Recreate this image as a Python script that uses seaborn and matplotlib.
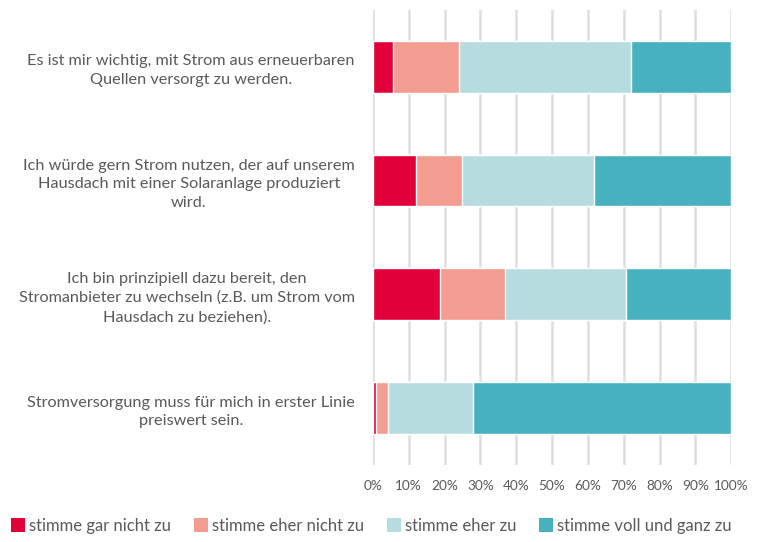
import pandas as pd
import numpy as np
import matplotlib
matplotlib.use("Agg")
import matplotlib.pyplot as plt
import seaborn as sns
from matplotlib.patches import Patch

# === Data (shares in %) ===
statements = [
    "Es ist mir wichtig, mit Strom aus erneuerbaren\nQuellen versorgt zu werden.",
    "Ich würde gern Strom nutzen, der auf unserem\nHausdach mit einer Solaranlage produziert\nwird.",
    "Ich bin prinzipiell dazu bereit, den\nStromanbieter zu wechseln (z.B. um Strom vom\nHausdach zu beziehen).",
    "Stromversorgung muss für mich in erster Linie\npreiswert sein.",
]
answers = ["stimme gar nicht zu", "stimme eher nicht zu", "stimme eher zu", "stimme voll und ganz zu"]
gar_nicht = [5.5, 11.9, 18.6, 1.0]
eher_nicht = [18.5, 12.9, 18.2, 3.1]
eher = [48.1, 37.0, 33.9, 23.8]
voll = [27.9, 38.2, 29.3, 72.1]
colors = ["#E2003A", "#F39C91", "#B7DCDF", "#48B1BF"]
text_col = "#595959"

df = pd.DataFrame({"statement": statements,
                   answers[0]: gar_nicht, answers[1]: eher_nicht,
                   answers[2]: eher, answers[3]: voll})
cum = df.set_index("statement")[answers].cumsum(axis=1)

sns.set_style("white")
plt.rcParams["font.family"] = ["Lato", "DejaVu Sans"]

fig = plt.figure(figsize=(7.61, 5.42), dpi=100)
ax = fig.add_axes([0.490, 0.142, 0.471, 0.840])

# stacked bars: draw cumulative totals from the back to the front
for ans, col in reversed(list(zip(answers, colors))):
    sns.barplot(x=cum[ans].values, y=statements, orient="h", color=col,
                width=0.456, saturation=1, ax=ax, zorder=3)

ax.set_xlim(0, 100)
ax.set_ylim(3.5, -0.5)
ax.set_xticks(np.arange(0, 101, 10))
ax.set_xticklabels([f"{v}%" for v in range(0, 101, 10)], fontsize=9.8, color=text_col)
ax.set_yticklabels(statements, fontsize=11.7, color=text_col, multialignment="center",
                   linespacing=1.42)
ax.tick_params(axis="both", length=0)
ax.tick_params(axis="y", pad=13)
ax.tick_params(axis="x", pad=11)
ax.grid(axis="x", color="#DEDEDE", linewidth=1.8, zorder=0)
ax.set_xlabel("")
ax.set_ylabel("")
for s in ax.spines.values():
    s.set_visible(False)

handles = [Patch(facecolor=c, edgecolor="none") for c in colors]
leg = fig.legend(handles, answers, loc="center left", bbox_to_anchor=(-0.005, 0.03),
                 ncol=4, frameon=False, fontsize=12, handlelength=0.84,
                 handleheight=0.84, handletextpad=0.25, columnspacing=1.36)
for t in leg.get_texts():
    t.set_color(text_col)

fig.savefig("out.png", dpi=100)
